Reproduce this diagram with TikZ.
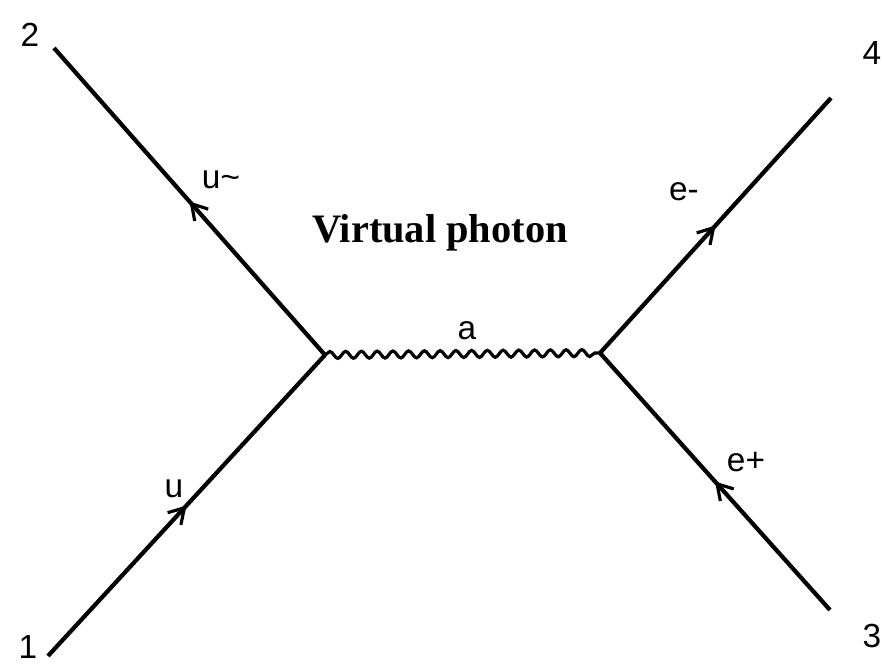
\documentclass[tikz,border=0pt]{standalone}
\usepackage{fontspec}
\setmainfont{Liberation Sans}
\newfontfamily\ttlfont{Liberation Serif}
\usetikzlibrary{arrows.meta, decorations.pathmorphing, decorations.markings}
\begin{document}
\begin{tikzpicture}[x=0.02cm, y=-0.02cm,
        font=\fontsize{19}{22}\selectfont,
        fermion/.style={line width=2.4pt, postaction={decorate},
            decoration={markings, mark=at position 0.5 with {\arrow{Straight Barb[length=0.3cm, width=0.36cm, line width=1.8pt]}}}},
        photon/.style={line width=1.8pt, decorate,
            decoration={snake, segment length=0.315cm, amplitude=0.07cm}},
        lbl/.style={inner sep=0pt},
        ttl/.style={font=\ttlfont\bfseries\fontsize{23}{27}\selectfont}]
        \useasboundingbox (0,0) rectangle (883,665);
        % external points and vertices
        \coordinate (p1) at (48,656);
        \coordinate (p2) at (54,48);
        \coordinate (p3) at (830,610);
        \coordinate (p4) at (831,98);
        \coordinate (vl) at (325,355);
        \coordinate (vr) at (600,353);
        % lines
        \draw[fermion] (p1) -- (vl);
        \draw[fermion] (vl) -- (p2);
        \draw[fermion] (vr) -- (p4);
        \draw[fermion] (p3) -- (vr);
        \draw[photon] (vl) -- (vr);
        % labels
        \node[lbl] (n1) at (28,647) {1};
        \node[lbl] (n2) at (30,35) {2};
        \node[lbl] (n3) at (872,636) {3};
        \node[lbl] (n4) at (872,53) {4};
        \node[lbl] (lu) at (174,489) {u};
        \node[lbl] (lub) at (221,180) {u\textasciitilde};
        \node[lbl] (lem) at (684,192) {e-};
        \node[lbl] (lep) at (746,462) {e+};
        \node[lbl] (la) at (467,331) {a};
        \node[ttl] (vp) at (440,233) {Virtual photon};
    \end{tikzpicture}
\end{document}
